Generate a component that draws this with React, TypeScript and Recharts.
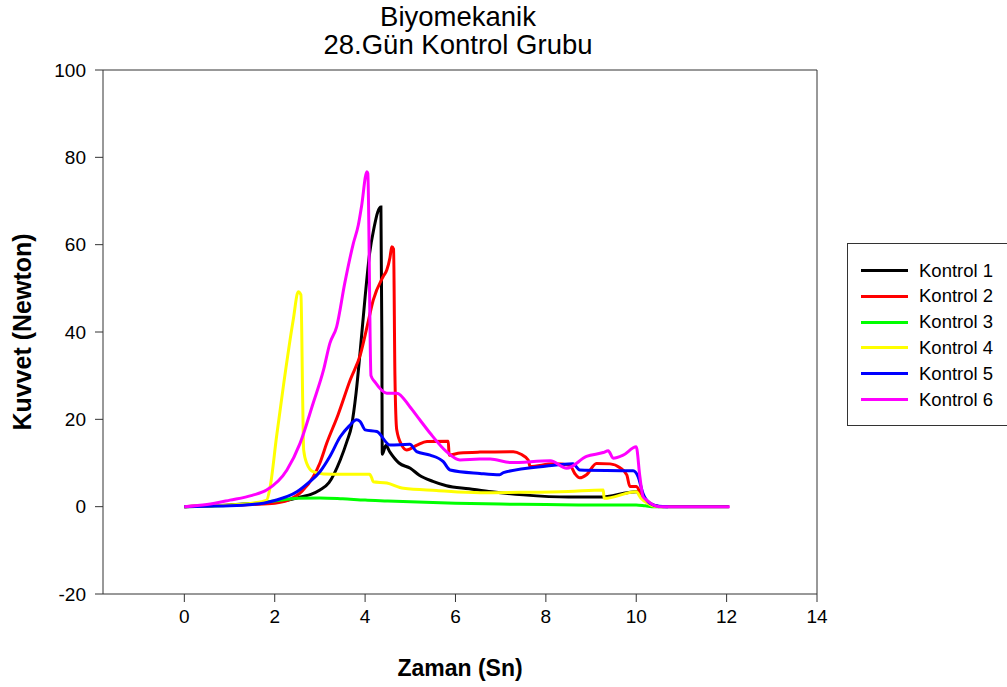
import { LineChart, Line, XAxis, YAxis, ReferenceLine } from "recharts";

const FONT = "'Liberation Sans', Arial, sans-serif";

// Kontrol 1 (black)
const k1x = [0, 0.5, 1, 1.5, 2, 2.3, 2.6, 2.8, 3.0, 3.2, 3.45, 3.6, 3.7, 3.8, 3.9, 4.0, 4.1, 4.2, 4.28, 4.35, 4.37, 4.38, 4.46, 4.55, 4.75, 5.0, 5.2, 5.5, 5.8, 6.3, 6.8, 7.5, 8.5, 9.2, 10.0, 10.2, 10.4, 10.6, 12.05];
const k1y = [0, 0.2, 0.4, 0.7, 1.0, 1.5, 2.3, 2.8, 3.8, 5.5, 10.7, 15, 18.5, 26, 36.6, 48, 58, 64, 67.5, 68.6, 40, 12, 14, 12.5, 10, 8.8, 7.2, 5.8, 4.8, 4.1, 3.4, 2.7, 2.2, 2.2, 3.4, 1.5, 0.3, 0, 0];

// Kontrol 2 (red)
const k2x = [0, 0.5, 1, 1.5, 2, 2.3, 2.6, 2.85, 3.0, 3.15, 3.4, 3.67, 3.9, 4.05, 4.18, 4.4, 4.48, 4.55, 4.59, 4.63, 4.66, 4.7, 4.81, 4.92, 5.15, 5.37, 5.84, 5.86, 6.1, 6.54, 7.28, 7.45, 7.61, 7.65, 8.16, 8.53, 8.64, 8.75, 8.9, 9.12, 9.42, 9.64, 9.79, 9.86, 10.0, 10.1, 10.3, 10.5];
const k2y = [0, 0.2, 0.3, 0.5, 0.8, 1.5, 3.5, 6.8, 10, 14.5, 21, 29, 35, 41.5, 47.3, 52.7, 54.2, 57, 59.5, 59, 30, 17.6, 14.1, 13, 14.1, 14.9, 15, 11.8, 12.3, 12.5, 12.6, 12.0, 10.7, 9.2, 9.8, 9.5, 7.6, 6.6, 7.3, 9.9, 9.8, 8.9, 7.3, 4.6, 4.6, 3, 0.5, 0];

// Kontrol 3 (green)
const k3x = [0, 0.5, 1, 1.5, 2, 2.5, 3, 3.5, 4, 4.5, 5, 6, 7, 8, 9, 10, 10.2, 10.4, 10.6];
const k3y = [0, 0.1, 0.3, 0.7, 1.3, 1.9, 2.0, 1.8, 1.5, 1.3, 1.1, 0.8, 0.6, 0.5, 0.4, 0.4, 0.2, 0, 0];

// Kontrol 4 (yellow)
const k4x = [0, 0.5, 1, 1.5, 1.82, 1.9, 2.04, 2.19, 2.41, 2.52, 2.58, 2.62, 2.64, 2.71, 2.85, 3.08, 3.5, 4.1, 4.15, 4.18, 4.48, 4.85, 5.58, 6.54, 7.5, 8.5, 9.27, 9.29, 10.0, 10.1, 10.25, 10.4, 10.6];
const k4y = [0, 0.2, 0.4, 0.8, 1.5, 4.6, 16, 27.5, 42.8, 49.2, 48.5, 23.7, 13, 9.9, 8.0, 7.5, 7.4, 7.4, 6.5, 5.7, 5.4, 4.2, 3.7, 3.2, 3.3, 3.5, 3.8, 1.9, 3.4, 2.0, 0.8, 0.1, 0];

// Kontrol 5 (blue)
const k5x = [0, 0.5, 1, 1.5, 1.75, 2, 2.49, 2.75, 3.0, 3.22, 3.45, 3.65, 3.81, 3.89, 4.0, 4.26, 4.55, 4.99, 5.14, 5.44, 5.73, 5.88, 6.54, 6.98, 7.06, 8.02, 8.6, 8.75, 9.93, 10.04, 10.15, 10.3, 10.5, 10.7];
const k5y = [0, 0.1, 0.2, 0.5, 0.8, 1.4, 3.4, 5.5, 8, 11.5, 16, 18.5, 19.9, 19.5, 17.6, 17.2, 14.1, 14.3, 12.6, 11.8, 10.3, 8.4, 7.6, 7.3, 7.8, 9.3, 9.8, 8.4, 8.2, 6.9, 3, 0.8, 0.1, 0];

// Kontrol 6 (magenta)
const k6x = [0, 0.5, 1.01, 1.5, 1.82, 2.27, 2.56, 2.85, 3.08, 3.22, 3.37, 3.55, 3.74, 3.85, 3.92, 4.04, 4.06, 4.13, 4.22, 4.48, 4.7, 4.99, 5.21, 5.44, 5.8, 6.1, 6.54, 6.77, 7.22, 8.1, 8.46, 8.9, 9.27, 9.38, 9.49, 9.71, 10.0, 10.08, 10.15, 10.23, 10.52, 12.07];
const k6y = [0, 0.5, 1.5, 2.6, 3.8, 8.4, 14.5, 23.7, 31.3, 37.4, 41.2, 51.2, 60.3, 64.5, 68.7, 76.7, 76.3, 30, 28.5, 26, 26, 22.9, 19.9, 16.8, 12.6, 10.7, 10.9, 10.9, 10.1, 10.5, 8.8, 11.5, 12.4, 12.8, 11.1, 11.8, 13.7, 6.9, 2.3, 1.5, 0, 0];

const seriesNames = ["Kontrol 1", "Kontrol 2", "Kontrol 3", "Kontrol 4", "Kontrol 5", "Kontrol 6"];
const seriesColors = ["#000000", "#ff0000", "#00ff00", "#ffff00", "#0000ff", "#ff00ff"];
const xTicks = [0, 2, 4, 6, 8, 10, 12, 14];
const yTicks = [-20, 0, 20, 40, 60, 80, 100];

const toPoints = (xs: number[], ys: number[]) => xs.map((x, i) => ({ x, y: ys[i] }));

const series = [
  toPoints(k1x, k1y),
  toPoints(k2x, k2y),
  toPoints(k3x, k3y),
  toPoints(k4x, k4y),
  toPoints(k5x, k5y),
  toPoints(k6x, k6y),
];

export default function App() {
  const tickStyle = { fontSize: 19, fill: "#000", fontFamily: FONT };
  return (
    <div style={{ position: "fixed", left: 0, top: 0, width: 1007, height: 687, background: "#fff", fontFamily: FONT }}>
      <div style={{ position: "absolute", left: 0, top: 3, width: 916, textAlign: "center", fontSize: 27.5, lineHeight: "28px", color: "#000" }}>
        Biyomekanik
        <br />
        28.Gün Kontrol Grubu
      </div>
      <LineChart width={1007} height={687} data={series[0]} margin={{ top: 70, right: 190, bottom: 53, left: 43 }}>
        <XAxis
          type="number"
          dataKey="x"
          domain={[-1.8, 14]}
          ticks={xTicks}
          allowDataOverflow
          height={40}
          tick={tickStyle}
          tickSize={8}
          tickMargin={8}
          stroke="#333"
        />
        <YAxis
          type="number"
          domain={[-20, 100]}
          ticks={yTicks}
          allowDataOverflow
          width={60}
          tick={tickStyle}
          tickSize={8}
          tickMargin={9}
          stroke="#333"
        />
        <ReferenceLine y={100} stroke="#333" />
        <ReferenceLine x={14} stroke="#333" />
        {series.map((pts, i) => (
          <Line
            key={seriesNames[i]}
            data={pts}
            dataKey="y"
            name={seriesNames[i]}
            type="monotone"
            stroke={seriesColors[i]}
            strokeWidth={3}
            dot={false}
            activeDot={false}
            isAnimationActive={false}
          />
        ))}
      </LineChart>
      <div
        style={{
          position: "absolute",
          left: 22,
          top: 332,
          transform: "translate(-50%, -50%) rotate(-90deg)",
          fontSize: 25,
          fontWeight: "bold",
          whiteSpace: "nowrap",
          color: "#000",
        }}
      >
        Kuvvet (Newton)
      </div>
      <div style={{ position: "absolute", left: 0, top: 655, width: 920, textAlign: "center", fontSize: 23, fontWeight: "bold", color: "#000" }}>
        Zaman (Sn)
      </div>
      <div
        style={{
          position: "absolute",
          left: 847,
          top: 243,
          width: 180,
          height: 183,
          border: "1px solid #333",
          boxSizing: "border-box",
        }}
      >
        {seriesNames.map((n, i) => (
          <div key={n} style={{ position: "absolute", left: 0, top: 14 + i * 25.8, height: 25, display: "flex", alignItems: "center" }}>
            <div style={{ marginLeft: 13, width: 47, height: 3, background: seriesColors[i] }} />
            <div style={{ marginLeft: 11, fontSize: 18.5, color: "#000", whiteSpace: "nowrap" }}>{n}</div>
          </div>
        ))}
      </div>
    </div>
  );
}
